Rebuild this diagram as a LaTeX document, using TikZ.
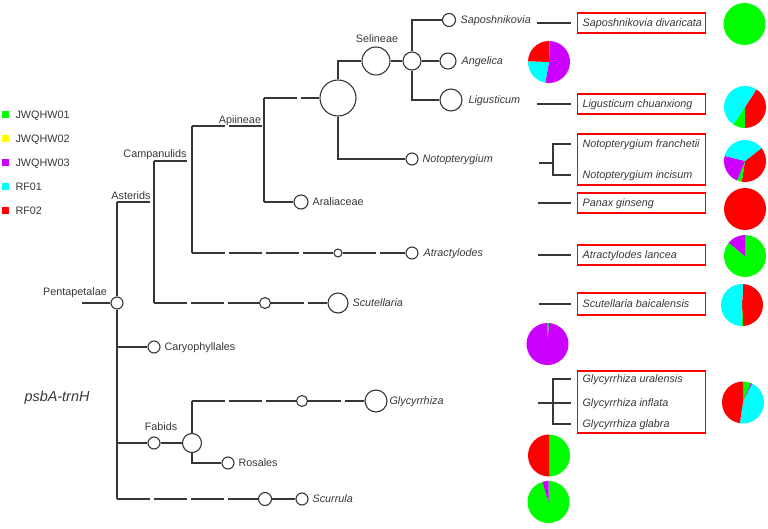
\documentclass[tikz,border=0pt]{standalone}
\usepackage{fontspec}
\setmainfont{Liberation Sans}
\usepackage{xcolor}
\usepackage{tikz}
\definecolor{jwqa}{RGB}{0,255,0}
\definecolor{jwqb}{RGB}{255,255,0}
\definecolor{jwqc}{RGB}{204,0,255}
\definecolor{rfa}{RGB}{0,255,255}
\definecolor{rfb}{RGB}{255,0,0}
\definecolor{lnclr}{RGB}{55,55,55}

\begin{document}
\begin{tikzpicture}[
  x=1pt, y=-1pt,
  color=lnclr, line width=1.1pt,
  nd/.style={circle, draw, fill=white, inner sep=0},
  brk/.style={dash pattern=on 33pt off 4pt},
  lab/.style={font=\fontsize{10.8}{13}\selectfont, inner sep=0, text height=7.7pt, text depth=0pt},
  sp/.style={lab, font=\fontsize{10.8}{13}\selectfont\itshape, anchor=west},
  box/.style={draw=rfb, line width=1.4pt, minimum width=128, minimum height=20, inner sep=0, anchor=west},
  tip/.style={shorten >=6pt},
  brak/.style={shorten >=11pt},
]

\useasboundingbox (0,0) rectangle (768,529);

\foreach \c/\t [count=\i] in {jwqa/JWQHW01, jwqb/JWQHW02, jwqc/JWQHW03, rfa/RF01, rfb/RF02} {
  \fill [\c] (2,111.5+23.8*\i-23.8) rectangle ++(7,7);
  \node [lab, anchor=west] (leg\i) at (15,115+23.8*\i-23.8) {\t};
}

\node [lab, font=\fontsize{14.4}{17}\selectfont\itshape, text height=10.3pt] (tmark) at (57,396) {psbA-trnH};

\node [nd, minimum size=12] (penta) at (117,303) {};
\node [nd, minimum size=12] (caryo) at (154,347) {};
\node [nd, minimum size=12] (fabid) at (154,443) {};
\node [nd, minimum size=19] (fabbig) at (192,443) {};
\node [nd, minimum size=11] (glyca) at (302,401) {};
\node [nd, minimum size=22] (glycb) at (376,401) {};
\node [nd, minimum size=12] (rosa) at (228,463) {};
\node [nd, minimum size=13] (scura) at (265,499) {};
\node [nd, minimum size=12] (scurb) at (302,499) {};
\node [nd, minimum size=11] (scuta) at (265,303) {};
\node [nd, minimum size=20] (scutb) at (338,303) {};
\node [nd, minimum size=8] (atra) at (338,253) {};
\node [nd, minimum size=12] (atrb) at (412,253) {};
\node [nd, minimum size=14] (aral) at (301,202) {};
\node [nd, minimum size=36] (apibig) at (338,98) {};
\node [nd, minimum size=28] (seli) at (376,61) {};
\node [nd, minimum size=18] (selib) at (412,61) {};
\node [nd, minimum size=13] (sapo) at (449,20) {};
\node [nd, minimum size=16] (ange) at (448,61) {};
\node [nd, minimum size=22] (ligu) at (451,100) {};
\node [nd, minimum size=12] (noto) at (412,159) {};

\coordinate (root) at (82,303);
\coordinate (ptop) at (117,202);
\coordinate (pbot) at (117,499);
\coordinate (astj) at (154,202);
\coordinate (astt) at (154,161);
\coordinate (astb) at (154,303);
\coordinate (camj) at (192,161);
\coordinate (camt) at (192,126);
\coordinate (camb) at (192,253);
\coordinate (apij) at (264,126);
\coordinate (apit) at (264,98);
\coordinate (apib) at (264,202);
\coordinate (glyt) at (192,401);

\draw (root) -- (penta);
\draw (penta) -- (ptop);
\draw (penta) -- (pbot);
\draw [brk] (ptop) -- (astj);
\draw (astt) -- (astb);
\draw [brk] (astt) -- (camj);
\draw (camt) -- (camb);
\draw [brk] (camt) -- (apij);
\draw (apit) -- (apib);
\draw [brk] (apit) -- (apibig);
\draw (apib) -- (aral);
\draw [brk] (camb) -- (atra);
\draw [brk] (atra) -- (atrb);
\draw [brk] (astb) -- (scuta);
\draw [brk] (scuta) -- (scutb);
\draw (apibig) |- (seli);
\draw (apibig) |- (noto);
\draw (seli) -- (selib);
\draw (selib) |- (sapo);
\draw (selib) -- (ange);
\draw (selib) |- (ligu);
\draw (penta) |- (caryo);
\draw (penta) |- (fabid);
\draw [brk] (pbot) -- (scura);
\draw (scura) -- (scurb);
\draw (fabid) -- (fabbig);
\draw (fabbig) -- (glyt);
\draw [brk] (glyt) -- (glyca);
\draw [brk] (glyca) -- (glycb);
\draw (fabbig) |- (rosa);

\node [lab] (tpenta) at (75,292) {Pentapetalae};
\node [lab] (tast) at (131,196) {Asterids};
\node [lab] (tcam) at (155,154) {Campanulids};
\node [lab] (tapi) at (240,120) {Apiineae};
\node [lab] (tseli) at (377,39) {Selineae};
\node [lab] (tfab) at (161,427) {Fabids};
\node [lab, anchor=west] (taral) at (312,202) {Araliaceae};
\node [lab, anchor=west] (tcaryo) at (164,347) {Caryophyllales};
\node [lab, anchor=west] (trosa) at (238,463) {Rosales};
\node [sp] (tsapo) at (460,20) {Saposhnikovia};
\node [sp] (tange) at (461,61) {Angelica};
\node [sp] (tligu) at (468,100) {Ligusticum};
\node [sp] (tnoto) at (422,159) {Notopterygium};
\node [sp] (tatra) at (423,253) {Atractylodes};
\node [sp] (tscut) at (352,303) {Scutellaria};
\node [sp] (tglyc) at (389,401) {Glycyrrhiza};
\node [sp] (tscur) at (312,499) {Scurrula};

\node [box] (bsapo) at (577,23) {};
\node [box] (bligu) at (577,104) {};
\node [box, minimum height=51] (bnoto) at (577,159.5) {};
\node [box] (bpanax) at (577,203) {};
\node [box] (batra) at (577,255) {};
\node [box, minimum height=22] (bscut) at (577,304) {};
\node [box, minimum height=62] (bglyc) at (577,402) {};
\node [sp] (tsd) at (582,23) {Saposhnikovia divaricata};
\node [sp] (tlc) at (582,104) {Ligusticum chuanxiong};
\node [sp] (tnf) at (582,144) {Notopterygium franchetii};
\node [sp] (tni) at (582,175) {Notopterygium incisum};
\node [sp] (tpg) at (582,203) {Panax ginseng};
\node [sp] (tal) at (582,255) {Atractylodes lancea};
\node [sp] (tsb) at (582,304) {Scutellaria baicalensis};
\node [sp] (tgu) at (582,379) {Glycyrrhiza uralensis};
\node [sp] (tgi) at (582,403) {Glycyrrhiza inflata};
\node [sp] (tgg) at (582,424) {Glycyrrhiza glabra};

\coordinate (ksapo) at (537,23);
\coordinate (kligu) at (537,104);
\coordinate (kpanax) at (538,203);
\coordinate (katra) at (538,255);
\coordinate (kscut) at (539,304);
\coordinate (knoto) at (539,163);
\coordinate (jnoto) at (553,163);
\coordinate (kglyc) at (538,403);
\coordinate (jglyc) at (553,403);
\draw [tip] (ksapo) -- (bsapo);
\draw [tip] (kligu) -- (bligu);
\draw [tip] (kpanax) -- (bpanax);
\draw [tip] (katra) -- (batra);
\draw [tip] (kscut) -- (bscut);
\draw (knoto) -- (jnoto);
\draw [brak] (jnoto) |- (tnf);
\draw [brak] (jnoto) |- (tni);
\draw (kglyc) -- (jglyc);
\draw [brak] (jglyc) |- (tgu);
\draw [brak] (jglyc) -- (tgi);
\draw [brak] (jglyc) |- (tgg);

\coordinate (psapo) at (744.5,24);
\coordinate (pange) at (549,62);
\coordinate (pligu) at (745,107);
\coordinate (pnoto) at (745,161);
\coordinate (ppanax) at (745,209);
\coordinate (patra) at (745,256);
\coordinate (pscut) at (742,305);
\coordinate (pcaryo) at (547.5,344);
\coordinate (pglyc) at (743,402.5);
\coordinate (prosa) at (549,455.5);
\coordinate (pscur) at (548.5,502);

\fill [jwqa] (psapo) circle [radius=21];
\fill [rfb] (ppanax) circle [radius=21];
\foreach \a/\b/\c in {0/3/jwqa, 3/190/jwqc, 190/272/rfa, 272/360/rfb}
  \fill [\c] (pange) -- ++(\a-90:21) arc [start angle=\a-90, end angle=\b-90, radius=21] -- cycle;
\foreach \a/\b/\c in {33/180/rfb, 180/214/jwqa, 214/393/rfa}
  \fill [\c] (pligu) -- ++(\a-90:21) arc [start angle=\a-90, end angle=\b-90, radius=21] -- cycle;
\foreach \a/\b/\c in {52/189/rfb, 189/202/jwqa, 202/284/jwqc, 284/412/rfa}
  \fill [\c] (pnoto) -- ++(\a-90:21) arc [start angle=\a-90, end angle=\b-90, radius=21] -- cycle;
\foreach \a/\b/\c in {0/309/jwqa, 309/360/jwqc}
  \fill [\c] (patra) -- ++(\a-90:21) arc [start angle=\a-90, end angle=\b-90, radius=21] -- cycle;
\foreach \a/\b/\c in {3/177/rfb, 177/181/jwqa, 181/363/rfa}
  \fill [\c] (pscut) -- ++(\a-90:21) arc [start angle=\a-90, end angle=\b-90, radius=21] -- cycle;
\foreach \a/\b/\c in {0/4/jwqa, 4/360/jwqc}
  \fill [\c] (pcaryo) -- ++(\a-90:21) arc [start angle=\a-90, end angle=\b-90, radius=21] -- cycle;
\foreach \a/\b/\c in {0/22/jwqa, 22/26/jwqc, 26/189/rfa, 189/360/rfb}
  \fill [\c] (pglyc) -- ++(\a-90:21) arc [start angle=\a-90, end angle=\b-90, radius=21] -- cycle;
\foreach \a/\b/\c in {0/180/jwqa, 180/360/rfb}
  \fill [\c] (prosa) -- ++(\a-90:21) arc [start angle=\a-90, end angle=\b-90, radius=21] -- cycle;
\foreach \a/\b/\c in {0/343/jwqa, 343/360/jwqc}
  \fill [\c] (pscur) -- ++(\a-90:21) arc [start angle=\a-90, end angle=\b-90, radius=21] -- cycle;

\end{tikzpicture}
\end{document}
